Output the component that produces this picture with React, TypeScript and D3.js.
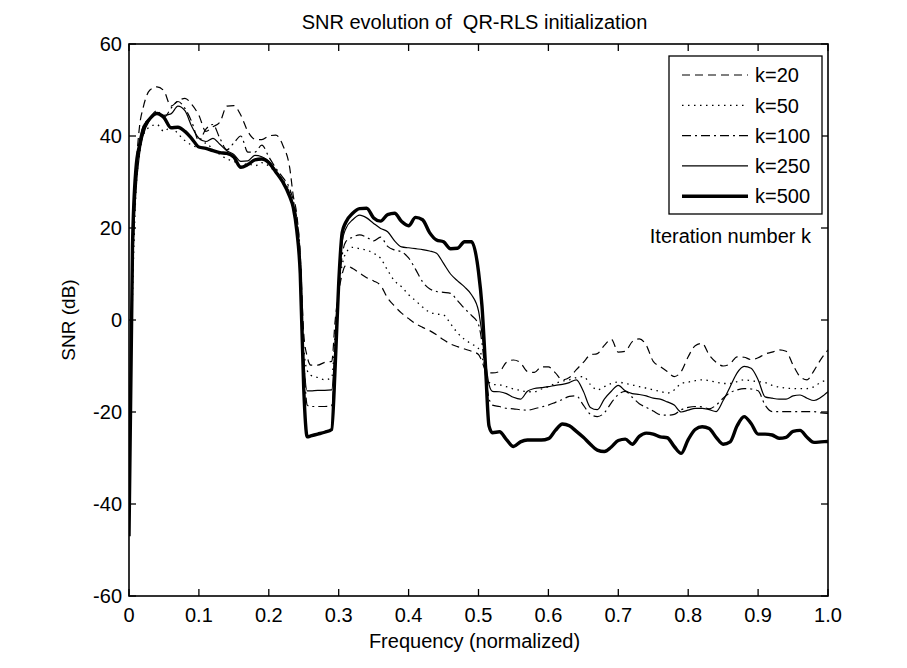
import React from "react";
import * as d3 from "d3";

// Frequency grid (normalized), shared by all curves
const freq = [
  0, 0.005, 0.01, 0.015, 0.02,
  0.03, 0.04, 0.05, 0.06, 0.07, 0.08, 0.09, 0.1, 0.11, 0.12, 0.13, 0.14, 0.15, 0.16, 0.17, 0.18, 0.19, 0.2, 0.21, 0.22, 0.23,
  0.235, 0.24, 0.245, 0.25, 0.255,
  0.26, 0.27, 0.28, 0.29,
  0.295, 0.3, 0.305,
  0.31, 0.32, 0.33, 0.34, 0.35, 0.36, 0.37, 0.38, 0.39, 0.4, 0.41, 0.42, 0.43, 0.44, 0.45, 0.46, 0.47, 0.48, 0.49, 0.5,
  0.505, 0.51, 0.515,
  0.52, 0.53, 0.54, 0.55, 0.56, 0.57, 0.58, 0.59, 0.6, 0.61, 0.62, 0.63, 0.64, 0.65, 0.66, 0.67, 0.68, 0.69, 0.7,
  0.71, 0.72, 0.73, 0.74, 0.75, 0.76, 0.77, 0.78, 0.79, 0.8, 0.81, 0.82, 0.83, 0.84, 0.85, 0.86, 0.87, 0.88, 0.89, 0.9,
  0.91, 0.92, 0.93, 0.94, 0.95, 0.96, 0.97, 0.98, 0.99, 1.0,
];

// SNR (dB) after k iterations
const snrK20 = [
  -30, 10, 32, 42, 46,
  50, 50.7, 49.8, 46.5, 47.6, 48.2, 46.8, 44.5, 41, 42, 43, 46.5, 46.6, 44.5, 41, 39.3, 39.2, 40, 40.2, 38, 33,
  27, 23, 14, -3, -8,
  -9.8, -9.8, -9.2, -9,
  0, 6, 10,
  11.8, 11.2, 10.2, 9.2, 8.5, 7.5, 4.8, 3, 1.5, 0.3, -0.8, -1.6, -2.3, -3.2, -4.3, -5.2, -5.8, -6.3, -6.8, -7.5,
  -9, -11, -11.5,
  -11.5, -11.2, -9.2, -8.7, -9.3, -11.2, -11.4, -10.2, -10.2, -11.5, -13, -12.5, -10.8, -9.2, -7.6, -7.3, -5.5, -4.2, -7,
  -6.8, -4.7, -4.1, -5.5, -9, -10.1, -11.2, -12.3, -11.2, -8, -5.6, -5.1, -7.6, -9.2, -10, -9.5, -8, -8.1, -8.6, -8.2,
  -7.4, -7, -6.5, -6.8, -9.8, -12.3, -13, -11, -8.5, -6.5,
];

const snrK50 = [
  -35, 5, 28, 36, 40,
  42, 42.5, 41, 42, 40.5, 39, 38, 37.5, 38.5, 37, 36, 35, 34.5, 33.5, 34, 33.5, 34.2, 33.5, 32, 30.5, 28,
  25.5, 21, 13, -6, -11,
  -12, -12.5, -13, -12.5,
  -3, 7, 12,
  14.5, 15.8, 15.5, 15.2, 14.5, 13.4, 10.8, 8.5, 7.2, 5.5, 4.2, 2.8, 1.7, 1.3, 1.1, -0.8, -2.8, -4.2, -5.2, -6.2,
  -8, -11, -13.5,
  -14, -14.1, -14.5, -15, -15.3, -15.6, -15.6, -15, -14.5, -13.8, -13.3, -13, -12.5, -12.3, -14, -15.2, -14.5, -13.8, -13.5,
  -13.8, -14.1, -14.5, -14.8, -15.2, -15.5, -15.9, -15.2, -13.8, -13.5, -13.2, -13, -13.2, -13.5, -13.8, -13.8, -13.4, -13, -13.2, -13.4,
  -13.6, -14.2, -14.6, -14.8, -14.9, -14.9, -14.9, -14.5, -13.5, -13,
];

const snrK100 = [
  -38, 8, 30, 38, 42,
  44, 45.5, 44, 46, 47.5, 46, 43, 39, 41.5, 42.5, 39.5, 37, 38.5, 40, 36.5, 36.5, 38, 35.5, 33, 31, 28.5,
  26, 22, 14, -8, -18.5,
  -18.8, -18.8, -18.8, -18.6,
  -8, 6, 14,
  17, 18, 18.5, 18, 17.2, 18, 16, 15.2, 14.8, 13.5, 11, 8.3, 6.8, 6.2, 6, 5.8, 4.2, 2.5, 1, -1,
  -5, -12, -17,
  -18.5, -18.8, -19.2, -19.3, -19.5, -19.6, -19.3, -18.9, -18.5, -17.9, -17.3, -16.6, -16.5, -18.5, -20.5, -21, -20.2, -18, -16.2,
  -15.5, -16.8, -18.2, -19, -19.8, -20.6, -20.7, -20.5, -19.5, -19, -18.8, -18.9, -19.3, -18.5, -17, -15.8, -15.2, -14.9, -15, -15.4,
  -18.5, -19.9, -19.9, -19.9, -19.9, -19.9, -19.9, -19.9, -20.2, -20.3,
];

const snrK250 = [
  -42, 10, 28, 36, 40,
  43.5, 44.8, 44.5, 44.8, 46.5, 45.5, 42, 39.5, 38.8, 39.5, 38.2, 36.8, 36, 34.5, 34.6, 35.8, 35.5, 34.5, 32.5, 30.2, 27.5,
  25, 20.5, 12, -8, -15.4,
  -15.4, -15.3, -15.3, -15.2,
  -5, 8, 17,
  19.8, 21.8, 22.8, 22.2, 21, 19.9, 19.2, 17.2, 15.9, 15.7, 15.5, 15.3, 15, 14.5, 12.3, 10, 8.5, 7.2, 5.5, 2,
  -3, -9, -14,
  -15.5, -15.6, -16, -16.8, -17.2, -15.5, -14.9, -14.7, -14.5, -14.2, -14, -13.6, -13, -15.5, -19, -19.5, -17.2, -15.5, -14.2,
  -15.4, -16, -16.2, -16.5, -17, -17.2, -17.8, -18.5, -20, -19.6, -19.2, -19.2, -19.5, -19.9, -17.5, -14.5, -11.5, -10.1, -10.5, -13,
  -16.7, -17, -17.2, -17.2, -16.5, -16.3, -17, -17.5, -16.8, -15.6,
];

const snrK500 = [
  -47, 16, 33, 38, 41.3,
  43.8, 44.9, 44, 41.8, 41.9, 41, 39.4, 37.6, 37.3, 36.8, 36.4, 36.2, 35.4, 33.2, 33.8, 34.8, 35, 34.2, 32.2, 30, 26.8,
  24.5, 19.5, 10, -15, -25.4,
  -25.2, -24.8, -24.4, -23.8,
  -10, 8, 19,
  21.2, 23.2, 24.2, 24.3, 22.2, 21.5, 22.9, 23.2, 21.4, 20.5, 22.3, 21.8, 19, 17.4, 17, 15.5, 15.6, 17, 17, 10.5,
  3, -10, -23,
  -24.5, -24.3, -26, -27.5, -26.5, -26.1, -26.1, -26.1, -25.8, -24, -22.6, -23, -24.2, -25.5, -27, -28.3, -28.6, -27.6, -26.2,
  -25.9, -27, -25.3, -24.6, -24.8, -25.4, -25.6, -27.5, -29, -26, -23.8, -23.2, -23.6, -25.5, -27, -26.5, -23, -21, -22.5, -24.8,
  -24.8, -25, -25.7, -25.5, -24.2, -24, -25.5, -26.6, -26.5, -26.4,
];

const seriesLabels = ["k=20", "k=50", "k=100", "k=250", "k=500"];
const seriesValues = [snrK20, snrK50, snrK100, snrK250, snrK500];

const xTicks = [0, 0.1, 0.2, 0.3, 0.4, 0.5, 0.6, 0.7, 0.8, 0.9, 1.0];
const xTickLabels = ["0", "0.1", "0.2", "0.3", "0.4", "0.5", "0.6", "0.7", "0.8", "0.9", "1.0"];
const yTicks = [60, 40, 20, 0, -20, -40, -60];

const titleText = "SNR evolution of  QR-RLS initialization";
const xLabelText = "Frequency (normalized)";
const yLabelText = "SNR (dB)";
const noteText = "Iteration number k";

// Line styles per series (same order as seriesLabels)
const styles = [
  { width: 1.2, dash: "8,5" },
  { width: 1.3, dash: "1.5,4.5" },
  { width: 1.2, dash: "9,4,2,4" },
  { width: 1.2, dash: "" },
  { width: 3.4, dash: "" },
];

const W = 907;
const H = 668;
const left = 129;
const right = 828;
const top = 44;
const bottom = 596;
const FONT = "'Liberation Sans', Arial, Helvetica, sans-serif";

export default function App() {
  const x = d3.scaleLinear().domain([0, 1]).range([left, right]);
  const y = d3.scaleLinear().domain([-60, 60]).range([bottom, top]);

  const line = d3
    .line<number>()
    .x((_, i) => x(freq[i]))
    .y((d) => y(d))
    .curve(d3.curveMonotoneX);

  const tickLen = 7;
  const legX = 669;
  const legY = 56;
  const legW = 153;
  const legH = 158;
  const rowY = (i: number) => 75 + i * 30.3;

  return (
    <svg
      width={W}
      height={H}
      style={{ position: "absolute", left: 0, top: 0, background: "#fff" }}
      fontFamily={FONT}
    >
      <rect x={0} y={0} width={W} height={H} fill="#fff" />
      <defs>
        <clipPath id="plot-clip">
          <rect x={left} y={top} width={right - left} height={bottom - top} />
        </clipPath>
      </defs>

      {/* curves */}
      <g clipPath="url(#plot-clip)" fill="none" stroke="#000" strokeLinejoin="round">
        {seriesValues.map((vals, i) => (
          <path
            key={seriesLabels[i]}
            d={line(vals) || ""}
            strokeWidth={styles[i].width}
            strokeDasharray={styles[i].dash || undefined}
          />
        ))}
      </g>

      {/* axes box */}
      <rect
        x={left}
        y={top}
        width={right - left}
        height={bottom - top}
        fill="none"
        stroke="#000"
        strokeWidth={1.6}
      />

      {/* x ticks */}
      {xTicks.map((t, i) => (
        <g key={"xt" + i}>
          <line x1={x(t)} x2={x(t)} y1={bottom} y2={bottom - tickLen} stroke="#000" strokeWidth={1.3} />
          <line x1={x(t)} x2={x(t)} y1={top} y2={top + tickLen} stroke="#000" strokeWidth={1.3} />
          <text x={x(t)} y={bottom + 26} textAnchor="middle" fontSize={20} fill="#000">
            {xTickLabels[i]}
          </text>
        </g>
      ))}

      {/* y ticks */}
      {yTicks.map((t) => (
        <g key={"yt" + t}>
          <line x1={left} x2={left + tickLen} y1={y(t)} y2={y(t)} stroke="#000" strokeWidth={1.3} />
          <line x1={right} x2={right - tickLen} y1={y(t)} y2={y(t)} stroke="#000" strokeWidth={1.3} />
          <text x={left - 7} y={y(t)} dy="0.36em" textAnchor="end" fontSize={20} fill="#000">
            {String(t)}
          </text>
        </g>
      ))}

      {/* titles */}
      <text
        x={(left + right) / 2 - 4}
        y={29}
        textAnchor="middle"
        fontSize={20}
        fill="#000"
        style={{ whiteSpace: "pre" }}
      >
        {titleText}
      </text>
      <text x={(left + right) / 2 - 4} y={648} textAnchor="middle" fontSize={20} fill="#000">
        {xLabelText}
      </text>
      <text
        transform={`translate(75, ${(top + bottom) / 2}) rotate(-90)`}
        textAnchor="middle"
        fontSize={19}
        fill="#000"
      >
        {yLabelText}
      </text>

      {/* legend */}
      <rect x={legX} y={legY} width={legW} height={legH} fill="#fff" stroke="#000" strokeWidth={1.3} />
      {seriesLabels.map((lab, i) => (
        <g key={"lg" + lab}>
          <line
            x1={682}
            x2={748}
            y1={rowY(i)}
            y2={rowY(i)}
            stroke="#000"
            strokeWidth={styles[i].width}
            strokeDasharray={styles[i].dash || undefined}
          />
          <text x={755} y={rowY(i)} dy="0.36em" fontSize={20} fill="#000">
            {lab}
          </text>
        </g>
      ))}

      <text x={811} y={243} textAnchor="end" fontSize={20} fill="#000">
        {noteText}
      </text>
    </svg>
  );
}
